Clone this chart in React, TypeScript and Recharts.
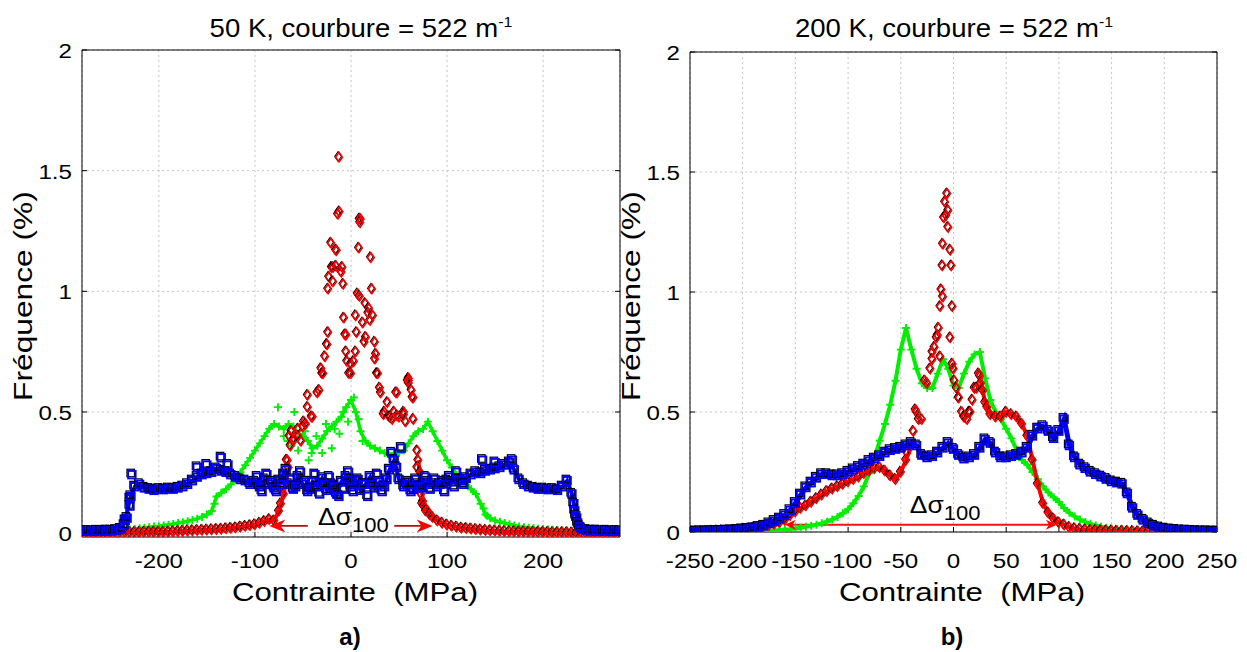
import React from 'react';
import { ScatterChart, Scatter, XAxis, YAxis, CartesianGrid, ReferenceLine } from 'recharts';

const FONT = '"Liberation Sans", Arial, Helvetica, sans-serif';
const RED = '#ff0000';
const GREEN = '#00ee00';
const BLUE = '#0000ff';

// ---------- panel a) 50 K ----------
const stressA = [
  -280, -275, -270, -265, -260, -255, -250, -245, -240, -235,
  -230, -225, -220, -215, -210, -205, -200, -195, -190, -185,
  -180, -175, -170, -165, -160, -155, -150, -145, -140, -135,
  -130, -125, -120, -115, -110, -105, -100, -95, -90, -85,
  -80, -75, -70, -65, -60, -55, -50, -45, -40, -35,
  -30, -25, -20, -15, -10, -5, 0, 5, 10, 15,
  20, 25, 30, 35, 40, 45, 50, 55, 60, 65,
  70, 75, 80, 85, 90, 95, 100, 105, 110, 115,
  120, 125, 130, 135, 140, 145, 150, 155, 160, 165,
  170, 175, 180, 185, 190, 195, 200, 205, 210, 215,
  220, 225, 230, 235, 240, 245, 250, 255, 260, 265,
  270, 275, 280,
];
const blueA = [
  0.005, 0.006, 0.005, 0.007, 0.006, 0.008, 0.007, 0.01, 0.015, 0.05,
  0.14, 0.19, 0.2, 0.185, 0.18, 0.175, 0.18, 0.178, 0.182, 0.18,
  0.185, 0.19, 0.2, 0.215, 0.23, 0.24, 0.245, 0.25, 0.265, 0.255,
  0.25, 0.24, 0.23, 0.22, 0.215, 0.2, 0.21, 0.19, 0.22, 0.2,
  0.185, 0.215, 0.24, 0.2, 0.18, 0.23, 0.2, 0.17, 0.21, 0.19,
  0.225, 0.175, 0.2, 0.16, 0.21, 0.23, 0.19, 0.215, 0.175, 0.2,
  0.23, 0.185, 0.21, 0.19, 0.26, 0.3, 0.22, 0.19, 0.21, 0.18,
  0.2, 0.185, 0.21, 0.2, 0.19, 0.21, 0.215, 0.21, 0.22, 0.215,
  0.225, 0.24, 0.25, 0.245, 0.255, 0.26, 0.265, 0.27, 0.28, 0.29,
  0.26, 0.22, 0.2, 0.19, 0.185, 0.18, 0.182, 0.178, 0.18, 0.175,
  0.19, 0.215, 0.16, 0.06, 0.015, 0.01, 0.007, 0.008, 0.006, 0.007,
  0.005, 0.006, 0.005,
];
const greenA = [
  0, 0, 0, 0, 0.001, 0.001, 0.002, 0.003, 0.005, 0.008,
  0.012, 0.015, 0.018, 0.02, 0.022, 0.025, 0.027, 0.03, 0.033, 0.036,
  0.04, 0.043, 0.047, 0.052, 0.058, 0.065, 0.075, 0.09, 0.15, 0.165,
  0.18, 0.2, 0.22, 0.25, 0.28, 0.31, 0.34, 0.37, 0.4, 0.43,
  0.45, 0.44, 0.43, 0.45, 0.44, 0.41, 0.4, 0.38, 0.35, 0.36,
  0.39, 0.42, 0.44, 0.46, 0.48, 0.52, 0.55, 0.5, 0.42, 0.38,
  0.36, 0.35, 0.34, 0.33, 0.32, 0.33, 0.33, 0.34, 0.37, 0.4,
  0.42, 0.43, 0.46, 0.42, 0.38, 0.34, 0.3, 0.27, 0.24, 0.22,
  0.2, 0.18, 0.16, 0.12, 0.075, 0.06, 0.05, 0.045, 0.04, 0.035,
  0.03, 0.025, 0.022, 0.02, 0.018, 0.016, 0.015, 0.013, 0.012, 0.01,
  0.009, 0.008, 0.006, 0.004, 0.002, 0.001, 0, 0, 0, 0,
  0, 0, 0,
];
const redA = [
  0, 0, 0, 0, 0, 0.001, 0.001, 0.001, 0.001, 0.002,
  0.002, 0.002, 0.002, 0.003, 0.003, 0.003, 0.003, 0.003, 0.004, 0.005,
  0.006, 0.007, 0.008, 0.009, 0.01, 0.011, 0.012, 0.013, 0.014, 0.015,
  0.017, 0.019, 0.021, 0.024, 0.027, 0.03, 0.034, 0.04, 0.047, 0.055,
  0.05, 0.09, 0.16, 0.27, 0.38, 0.4, 0.44, 0.52, 0.48, 0.58,
  0.66, 0.78, 1.1, 1.17, 1.08, 0.82, 0.7, 0.9, 1.3, 0.95,
  0.88, 0.72, 0.6, 0.5, 0.48, 0.5, 0.48, 0.5, 0.62, 0.56,
  0.3, 0.13, 0.09, 0.065, 0.05, 0.04, 0.033, 0.028, 0.024, 0.02,
  0.018, 0.016, 0.014, 0.012, 0.01, 0.009, 0.008, 0.007, 0.006, 0.005,
  0.005, 0.004, 0.004, 0.003, 0.003, 0.002, 0.002, 0.002, 0.001, 0.001,
  0.001, 0.001, 0, 0, 0, 0, 0, 0, 0, 0,
  0, 0, 0,
];
// scattered points
const redExtraA = [
  [-12.4, 1.556], [-13.5, 1.32], [-12, 1.33], [9, 1.3], [9.5, 1.285], [-20.7, 1.2], [-15.5, 1.17],
  [8.3, 1.18], [20.7, 1.14], [-18.6, 1.1], [-15.5, 1.105], [-9, 1.1], [-22.8, 1.06], [-18.6, 1.04],
  [-8, 1.03], [-23.8, 1.01], [21.8, 1.01], [7, 0.99], [9, 0.98], [18.7, 0.93], [18, 0.91], [22.8, 0.9],
  [-7.3, 0.89], [12.4, 0.87], [-23.8, 0.83], [-6, 0.82], [6, 0.83], [15.5, 0.81], [14, 0.79],
  [24.8, 0.79], [-24.8, 0.78], [-5, 0.75], [5, 0.75], [26, 0.74], [-27, 0.73], [-4, 0.71], [3, 0.71],
  [-31, 0.68], [-2, 0.66], [27, 0.66], [60, 0.64], [-29, 0.66], [0, 0.66], [28, 0.66], [60, 0.63],
  [-45, 0.57], [-33, 0.59], [31, 0.58], [48, 0.58], [64, 0.56], [38, 0.54], [34, 0.49], [41, 0.48],
  [48, 0.485], [55, 0.49], [65, 0.47], [-41, 0.48], [-49, 0.46], [-59, 0.39], [69, 0.34], [69, 0.27],
  [70, 0.19], [74, 0.12], [-55, 0.43], [-52, 0.38], [-47, 0.45], [-62, 0.42], [-64, 0.4], [47, 0.58],
  [59, 0.63], [63, 0.59], [43, 0.47], [57, 0.46], [-66, 0.3], [-73, 0.12], [-71, 0.19], [-69, 0.23],
  [-67, 0.3], [-63, 0.36], [72, 0.25], [73, 0.16], [76, 0.11], [78, 0.09], [82, 0.075],
];
const blueExtraA = [
  [-97.5, 0.23], [-92.5, 0.17], [-87.5, 0.24], [-82.5, 0.21], [-77.5, 0.17], [-72.5, 0.2], [-67.5, 0.26],
  [-62.5, 0.22], [-57.5, 0.19], [-52.5, 0.25], [-47.5, 0.21], [-42.5, 0.18], [-37.5, 0.24], [-32.5, 0.16],
  [-27.5, 0.2], [-22.5, 0.23], [-17.5, 0.19], [-12.5, 0.15], [-7.5, 0.18], [-2.5, 0.25], [2.5, 0.17],
  [7.5, 0.22], [12.5, 0.2], [17.5, 0.15], [22.5, 0.2], [27.5, 0.24], [32.5, 0.17], [37.5, 0.22],
  [42.5, 0.33], [47.5, 0.27], [52.5, 0.35], [57.5, 0.2], [62.5, 0.17], [67.5, 0.22], [72.5, 0.19],
  [77.5, 0.23], [82.5, 0.18], [87.5, 0.22], [92.5, 0.2], [97.5, 0.17], [102.5, 0.23], [107.5, 0.19],
  [112.5, 0.22], [117.5, 0.2], [-135, 0.31], [-160, 0.27], [-150, 0.28], [-128, 0.28], [137, 0.3],
  [150, 0.29], [168, 0.3], [110, 0.25], [-236, 0.03], [-233, 0.06], [-230, 0.11], [-229, 0.15],
  [-228, 0.24], [232, 0.12], [233, 0.09], [234, 0.07], [236, 0.04], [238, 0.025],
];
const greenExtraA = [
  [-76, 0.52], [-70, 0.4], [-66, 0.38], [-59, 0.5], [-62, 0.36], [-55, 0.34], [-48, 0.42], [-44, 0.3],
  [-41, 0.33], [-36, 0.4], [-30, 0.33], [-26, 0.45], [-20, 0.35], [-17, 0.43], [-12, 0.41], [-8, 0.5],
  [-3, 0.46], [3, 0.56], [8, 0.47], [12, 0.38], [-142, 0.12], [138, 0.1], [142, 0.07],
];
const arrowHeadsA = [{ x: -85, y: 0.028, dir: -1 }, { x: 85, y: 0.028, dir: 1 }];
const shaftsA = [[-80, -45], [45, 80]];
const labelA = [{ x: 2.5, y: 0.032 }];

// ---------- panel b) 200 K ----------
const stressB = [
  -250, -245, -240, -235, -230, -225, -220, -215, -210, -205,
  -200, -195, -190, -185, -180, -175, -170, -165, -160, -155,
  -150, -145, -140, -135, -130, -125, -120, -115, -110, -105,
  -100, -95, -90, -85, -80, -75, -70, -65, -60, -55,
  -50, -45, -40, -35, -30, -25, -20, -15, -10, -5,
  0, 5, 10, 15, 20, 25, 30, 35, 40, 45,
  50, 55, 60, 65, 70, 75, 80, 85, 90, 95,
  100, 105, 110, 115, 120, 125, 130, 135, 140, 145,
  150, 155, 160, 165, 170, 175, 180, 185, 190, 195,
  200, 205, 210, 215, 220, 225, 230, 235, 240, 245,
  250,
];
const blueB = [
  0.001, 0.001, 0.002, 0.002, 0.003, 0.003, 0.004, 0.005, 0.006, 0.008,
  0.01, 0.012, 0.015, 0.02, 0.025, 0.035, 0.045, 0.055, 0.07, 0.09,
  0.12, 0.155, 0.185, 0.205, 0.225, 0.24, 0.24, 0.235, 0.235, 0.24,
  0.25, 0.26, 0.27, 0.28, 0.295, 0.305, 0.315, 0.33, 0.34, 0.345,
  0.35, 0.36, 0.37, 0.36, 0.32, 0.31, 0.315, 0.33, 0.35, 0.37,
  0.345, 0.32, 0.305, 0.31, 0.32, 0.35, 0.385, 0.37, 0.33, 0.31,
  0.31, 0.315, 0.32, 0.33, 0.35, 0.4, 0.43, 0.44, 0.42, 0.39,
  0.42, 0.47, 0.36, 0.31, 0.28, 0.265, 0.25, 0.24, 0.23, 0.22,
  0.21, 0.205, 0.2, 0.16, 0.1, 0.07, 0.05, 0.035, 0.025, 0.018,
  0.013, 0.01, 0.008, 0.006, 0.005, 0.004, 0.003, 0.002, 0.002, 0.001,
  0.001,
];
const greenB = [
  0.001, 0.001, 0.001, 0.001, 0.001, 0.001, 0.001, 0.001, 0.001, 0.001,
  0.001, 0.002, 0.002, 0.003, 0.004, 0.005, 0.006, 0.008, 0.01, 0.012,
  0.015, 0.018, 0.022, 0.026, 0.03, 0.036, 0.043, 0.052, 0.063, 0.078,
  0.095, 0.12, 0.15, 0.19, 0.245, 0.31, 0.38, 0.45, 0.53, 0.63,
  0.76, 0.85, 0.76, 0.68, 0.62, 0.6, 0.6, 0.66, 0.72, 0.68,
  0.61, 0.6, 0.66, 0.71, 0.74, 0.75, 0.64, 0.55, 0.5, 0.47,
  0.43, 0.39, 0.34, 0.3, 0.28, 0.25, 0.22, 0.19, 0.165, 0.145,
  0.125, 0.1, 0.08, 0.065, 0.052, 0.042, 0.034, 0.027, 0.022, 0.018,
  0.015, 0.012, 0.01, 0.008, 0.007, 0.006, 0.005, 0.004, 0.003, 0.003,
  0.002, 0.001, 0.001, 0.001, 0.001, 0.001, 0.001, 0.001, 0.001, 0.001,
  0.001,
];
const redB = [
  0.001, 0.002, 0.002, 0.003, 0.004, 0.005, 0.006, 0.007, 0.008, 0.01,
  0.012, 0.014, 0.017, 0.02, 0.024, 0.028, 0.033, 0.04, 0.05, 0.07,
  0.085, 0.1, 0.11, 0.125, 0.14, 0.155, 0.17, 0.18, 0.19, 0.2,
  0.21, 0.22, 0.23, 0.245, 0.255, 0.265, 0.27, 0.255, 0.235, 0.22,
  0.25, 0.3, 0.36, 0.5, 0.47, 0.62, 0.75, 0.82, 0.98, 1.27,
  0.68, 0.56, 0.48, 0.5, 0.6, 0.65, 0.54, 0.49, 0.48, 0.48,
  0.5, 0.49, 0.48, 0.45, 0.4, 0.3, 0.2, 0.12, 0.08, 0.055,
  0.04, 0.03, 0.02, 0.015, 0.012, 0.01, 0.008, 0.007, 0.006, 0.005,
  0.005, 0.004, 0.004, 0.003, 0.003, 0.002, 0.002, 0.001, 0.001, 0.001,
  0.001, 0.001, 0.001, 0.001, 0.001, 0.001, 0, 0, 0, 0,
  0,
];
const redExtraB = [
  [-6, 1.41], [-8, 1.375], [-5, 1.34], [-9, 1.31], [-7, 1.32], [-10, 1.2], [-3, 1.175], [-10.5, 1.11],
  [-2, 1.11], [-11.5, 1.01], [-12.5, 0.94], [-1, 0.94], [-14, 0.85], [-16, 0.81], [-3, 0.81],
  [-12.5, 0.73], [-1, 0.7], [1, 0.63], [-18, 0.77], [-20, 0.72], [-22, 0.68], [-27, 0.63], [-33, 0.47],
  [-36, 0.51], [-38, 0.42], [-44, 0.33], [3, 0.6], [5, 0.56], [8, 0.5], [10.5, 0.48], [13, 0.47],
  [16, 0.5], [18, 0.55], [22, 0.6], [24, 0.66], [26, 0.62], [28, 0.59], [32, 0.52],
];
const arrowHeadsB = [{ x: -160, y: 0.03, dir: -1 }, { x: 98, y: 0.03, dir: 1 }];
const shaftsB = [[-157, 95]];
const labelB = [{ x: -8, y: 0.079 }];

const ticksXA = [-200, -100, 0, 100, 200];
const ticksXB = [-250, -200, -150, -100, -50, 0, 50, 100, 150, 200, 250];
const ticksY = [0, 0.5, 1, 1.5, 2];

type Pt = { x: number; y: number };
const pts = (xs: number[], ys: number[]): Pt[] => xs.map((x, i) => ({ x, y: ys[i] }));
const pairs = (list: number[][]): Pt[] => list.map(([x, y]) => ({ x, y }));

// ---------- marker shapes ----------
const square = (color: string) => (p: any) => {
  const { cx, cy } = p;
  if (cx == null || cy == null) return <g />;
  return (
    <g>
      <rect x={cx - 5} y={cy - 5.5} width={7.5} height={7.5} fill="none" stroke="#000" strokeWidth={1.2} />
      <rect x={cx - 3.8} y={cy - 3.8} width={7.5} height={7.5} fill="none" stroke={color} strokeWidth={1.9} />
    </g>
  );
};
const diamond = (color: string) => (p: any) => {
  const { cx, cy } = p;
  if (cx == null || cy == null) return <g />;
  return (
    <g>
      <path d={`M${cx - 1},${cy - 5.5} l3.4,4.8 l-3.4,4.8 l-3.4,-4.8 z`} fill="none" stroke="#000" strokeWidth={1.1} />
      <path d={`M${cx},${cy - 4.8} l3.4,4.8 l-3.4,4.8 l-3.4,-4.8 z`} fill="none" stroke={color} strokeWidth={1.6} />
    </g>
  );
};
const plus = (color: string) => (p: any) => {
  const { cx, cy } = p;
  if (cx == null || cy == null) return <g />;
  return <path d={`M${cx - 4},${cy} h8 M${cx},${cy - 4} v8`} stroke={color} strokeWidth={1.9} fill="none" />;
};
const none = () => <g />;
const arrowHead = (color: string, len: number, half: number) => (p: any) => {
  const { cx, cy, payload } = p;
  if (cx == null || cy == null) return <g />;
  const d = payload.dir;
  return (
    <path
      d={`M${cx},${cy} L${cx - d * len},${cy - half} L${cx - d * len * 0.7},${cy} L${cx - d * len},${cy + half} Z`}
      fill={color}
    />
  );
};
const deltaLabel = (p: any) => {
  const { cx, cy } = p;
  if (cx == null || cy == null) return <g />;
  return (
    <text transform={`translate(${cx},${cy}) scale(1.1,1)`} textAnchor="middle" fontFamily={FONT} fontSize={24} fill="#000">
      Δσ<tspan fontSize={20} dy={7}>100</tspan>
    </text>
  );
};

const XTick = (p: any) => (
  <text transform={`translate(${p.x},568) scale(1.15,1)`} textAnchor="middle" fontFamily={FONT} fontSize={21} fill="#000">
    {p.payload.value}
  </text>
);
const YTick = (p: any) => (
  <text transform={`translate(${p.x - 15},${p.y + 8}) scale(1.15,1)`} textAnchor="end" fontFamily={FONT} fontSize={21} fill="#000">
    {p.payload.value}
  </text>
);

type Kind = 'red' | 'green' | 'blue';
const COLOR: Record<Kind, string> = { red: RED, green: GREEN, blue: BLUE };
const SHAPE: Record<Kind, any> = { red: diamond(RED), green: plus(GREEN), blue: square(BLUE) };

type Layer = { data: Pt[]; kind: Kind; line?: number; markers?: boolean };

type PanelProps = {
  left: number;
  width: number;
  margin: { top: number; right: number; bottom: number; left: number };
  xDomain: [number, number];
  xTicks: number[];
  yDomain: [number, number];
  layers: Layer[];
  heads: { x: number; y: number; dir: number }[];
  shafts: number[][];
  shaftY: number;
  shaftColor: string;
  shaftWidth: number;
  headLen: number;
  headHalf: number;
  label: Pt[];
};

const Panel = (pp: PanelProps) => (
  <div style={{ position: 'absolute', left: pp.left, top: 0 }}>
    <ScatterChart width={pp.width} height={652} margin={pp.margin}>
      <CartesianGrid stroke="#c4c4c4" strokeDasharray="2 3" />
      <XAxis
        type="number" dataKey="x" domain={pp.xDomain} ticks={pp.xTicks} allowDataOverflow interval={0}
        height={40} tickSize={-5} tickMargin={0} axisLine={{ stroke: '#000' }} tickLine={{ stroke: '#000' }}
        tick={(p: any) => <XTick {...p} />}
      />
      <XAxis
        xAxisId="top" orientation="top" type="number" domain={pp.xDomain} ticks={pp.xTicks} allowDataOverflow
        interval={0} height={1} tickSize={-5} axisLine={{ stroke: '#000' }} tickLine={{ stroke: '#000' }} tick={none}
      />
      <YAxis
        type="number" dataKey="y" domain={pp.yDomain} ticks={ticksY} allowDataOverflow interval={0}
        width={60} tickSize={-5} tickMargin={0} axisLine={{ stroke: '#000' }} tickLine={{ stroke: '#000' }}
        tick={(p: any) => <YTick {...p} />}
      />
      <YAxis
        yAxisId="right" orientation="right" type="number" domain={pp.yDomain} ticks={ticksY} allowDataOverflow
        interval={0} width={1} tickSize={-5} axisLine={{ stroke: '#000' }} tickLine={{ stroke: '#000' }} tick={none}
      />
      {pp.layers.map((l, i) => (
        <Scatter
          key={i}
          data={l.data}
          shape={l.markers === false ? none : SHAPE[l.kind]}
          line={l.line ? { stroke: COLOR[l.kind], strokeWidth: l.line } : false}
          isAnimationActive={false}
        />
      ))}
      {pp.shafts.map(([a, b], i) => (
        <ReferenceLine key={i} segment={[{ x: a, y: pp.shaftY }, { x: b, y: pp.shaftY }]}
          stroke={pp.shaftColor} strokeWidth={pp.shaftWidth} />
      ))}
      <Scatter data={pp.heads} shape={arrowHead(RED, pp.headLen, pp.headHalf)} isAnimationActive={false} />
      <Scatter data={pp.label} shape={deltaLabel} isAnimationActive={false} />
    </ScatterChart>
  </div>
);

const Overlay = () => (
  <svg width={1247} height={652} style={{ position: 'absolute', left: 0, top: 0, pointerEvents: 'none' }}
    fontFamily={FONT} fill="#000">
    <text transform="translate(361,37) scale(1.06,1)" textAnchor="middle" fontSize={26}>
      50 K, courbure = 522 m<tspan fontSize={15} dy={-10}>-1</tspan>
    </text>
    <text transform="translate(954,37) scale(1.06,1)" textAnchor="middle" fontSize={26}>
      200 K, courbure = 522 m<tspan fontSize={15} dy={-10}>-1</tspan>
    </text>
    <text transform="translate(355,601) scale(1.2,1)" textAnchor="middle" fontSize={26} style={{ whiteSpace: 'pre' }}>
      Contrainte  (MPa)
    </text>
    <text transform="translate(962,601) scale(1.2,1)" textAnchor="middle" fontSize={26} style={{ whiteSpace: 'pre' }}>
      Contrainte  (MPa)
    </text>
    <text transform="translate(32,296) rotate(-90) scale(1.22,1)" textAnchor="middle" fontSize={26}>
      Fréquence (%)
    </text>
    <text transform="translate(640,296) rotate(-90) scale(1.22,1)" textAnchor="middle" fontSize={26}>
      Fréquence (%)
    </text>
    <text x={350} y={645} textAnchor="middle" fontSize={24} fontWeight="bold">a)</text>
    <text x={952} y={645} textAnchor="middle" fontSize={24} fontWeight="bold">b)</text>
  </svg>
);

const redPtsA = pts(stressA, redA);
const redPtsB = pts(stressB, redB);

export default function App() {
  return (
    <div style={{ position: 'absolute', left: 0, top: 0, width: 1247, height: 652, background: '#fff', overflow: 'hidden' }}>
      <Panel
        left={0} width={640} margin={{ top: 49, right: 19, bottom: 75, left: 22 }}
        xDomain={[-280, 280]} xTicks={ticksXA} yDomain={[-0.018, 2]}
        layers={[
          { data: pts(stressA, greenA), kind: 'green', line: 3.5 },
          { data: pairs(greenExtraA), kind: 'green' },
          { data: redPtsA.filter((p) => p.x <= -65), kind: 'red', line: 4, markers: false },
          { data: redPtsA.filter((p) => p.x >= 70), kind: 'red', line: 4, markers: false },
          { data: redPtsA, kind: 'red' },
          { data: pairs(redExtraA), kind: 'red' },
          { data: pts(stressA, blueA), kind: 'blue', line: 4 },
          { data: pairs(blueExtraA), kind: 'blue' },
        ]}
        heads={arrowHeadsA} shafts={shaftsA} shaftY={0.028} shaftColor="#b01010" shaftWidth={1.8}
        headLen={16} headHalf={6.5} label={labelA}
      />
      <Panel
        left={620} width={627} margin={{ top: 51, right: 29, bottom: 80, left: 10 }}
        xDomain={[-250, 250]} xTicks={ticksXB} yDomain={[0, 2]}
        layers={[
          { data: pts(stressB, greenB), kind: 'green', line: 4 },
          { data: redPtsB.filter((p) => p.x <= -40), kind: 'red', line: 4, markers: false },
          { data: redPtsB.filter((p) => p.x >= 25), kind: 'red', line: 4, markers: false },
          { data: redPtsB, kind: 'red' },
          { data: pairs(redExtraB), kind: 'red' },
          { data: pts(stressB, blueB), kind: 'blue', line: 5 },
        ]}
        heads={arrowHeadsB} shafts={shaftsB} shaftY={0.03} shaftColor="#ff1010" shaftWidth={2}
        headLen={11} headHalf={5} label={labelB}
      />
      <Overlay />
    </div>
  );
}
